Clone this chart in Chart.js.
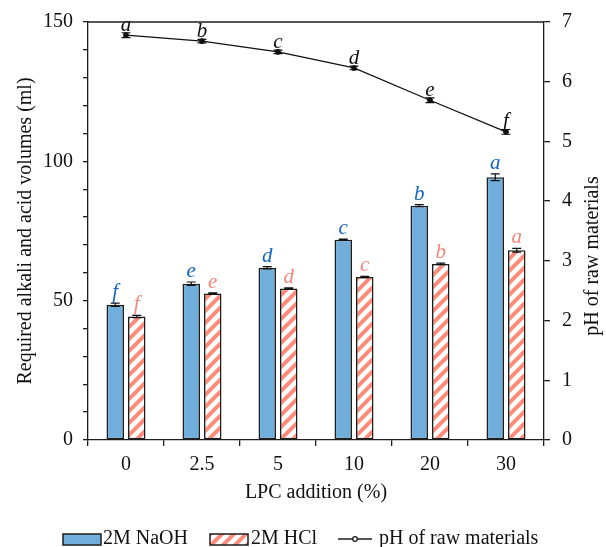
<!DOCTYPE html>
<html><head><meta charset="utf-8">
<script src="https://cdn.jsdelivr.net/npm/chart.js@4/dist/chart.umd.min.js"></script>
<style>html,body{margin:0;padding:0;background:#fff}</style>
</head><body>
<canvas id="c" width="606" height="547"></canvas>
<script>
const categories = ['0', '2.5', '5', '10', '20', '30'];
const naoh = [48.5, 56.1, 61.8, 71.9, 84.1, 94.3];
const naohErr = [0.6, 0.6, 0.4, 0.2, 0.4, 1.2];
const hcl = [44.3, 52.6, 54.4, 58.5, 63.2, 68.1];
const hclErr = [0.4, 0.2, 0.2, 0.2, 0.3, 0.7];
const ph = [6.78, 6.68, 6.50, 6.23, 5.69, 5.16];
const phErr = [0.04, 0.03, 0.03, 0.03, 0.04, 0.04];
const naohLetters = ['f', 'e', 'd', 'c', 'b', 'a'];
const hclLetters = ['f', 'e', 'd', 'c', 'b', 'a'];
const phLetters = ['a', 'b', 'c', 'd', 'e', 'f'];
const seriesNames = ['2M NaOH', '2M HCl', 'pH of raw materials'];
const leftTitle = 'Required alkali and acid volumes (ml)';
const rightTitle = 'pH of raw materials';
const xTitle = 'LPC addition (%)';

const FONT = "'Liberation Serif', 'Times New Roman', serif";
const FS = 20;
const BLUE = '#72aedc';
const BLUE_TXT = '#1565c0';
const SALMON = '#ff8a7a';
const SALMON_TXT = '#f4877a';
const EDGE = '#1e1e1e';

function makeHatch() {
  const s = 12;
  const c = document.createElement('canvas');
  c.width = s; c.height = s;
  const g = c.getContext('2d');
  g.fillStyle = '#fff'; g.fillRect(0, 0, s, s);
  g.strokeStyle = SALMON; g.lineWidth = 4;
  g.beginPath();
  g.moveTo(-1, s + 1); g.lineTo(s + 1, -1);
  g.moveTo(-s / 2 - 1, s / 2 + 1); g.lineTo(s / 2 + 1, -s / 2 - 1);
  g.moveTo(s / 2 - 1, s * 1.5 + 1); g.lineTo(s * 1.5 + 1, s / 2 - 1);
  g.stroke();
  return document.getElementById('c').getContext('2d').createPattern(c, 'repeat');
}
const hatch = makeHatch();

const deco = {
  id: 'deco',
  afterDatasetsDraw(chart) {
    const ctx = chart.ctx;
    const { top, left, right } = chart.chartArea;
    const yL = chart.scales.y, yR = chart.scales.y1;
    ctx.save();
    ctx.strokeStyle = EDGE; ctx.lineWidth = 1.3;
    ctx.beginPath(); ctx.moveTo(left, top); ctx.lineTo(right, top); ctx.stroke();

    function errBar(x, v, e, sc, cap) {
      const y1 = sc.getPixelForValue(v + e), y2 = sc.getPixelForValue(v - e);
      ctx.strokeStyle = '#111'; ctx.lineWidth = 1.2;
      ctx.beginPath();
      ctx.moveTo(x, y1); ctx.lineTo(x, y2);
      ctx.moveTo(x - cap, y1); ctx.lineTo(x + cap, y1);
      ctx.moveTo(x - cap, y2); ctx.lineTo(x + cap, y2);
      ctx.stroke();
      return y1;
    }
    ctx.font = 'italic 21px ' + FONT;
    ctx.textAlign = 'center'; ctx.textBaseline = 'alphabetic';
    const sets = [[0, naoh, naohErr, naohLetters, BLUE_TXT], [1, hcl, hclErr, hclLetters, SALMON_TXT]];
    sets.forEach(([di, vals, errs, letters, col]) => {
      chart.getDatasetMeta(di).data.forEach((bar, i) => {
        const yt = errBar(bar.x, vals[i], errs[i], yL, 4.5);
        ctx.fillStyle = col;
        ctx.fillText(letters[i], bar.x, Math.min(yt, bar.y) - 5);
      });
    });
    chart.getDatasetMeta(2).data.forEach((pt, i) => {
      const yt = errBar(pt.x, ph[i], phErr[i], yR, 4.5);
      ctx.fillStyle = '#111';
      ctx.fillText(phLetters[i], pt.x, yt - 2);
    });
    ctx.restore();
  },
  afterDraw(chart) {
    const ctx = chart.ctx;
    ctx.save();
    ctx.font = FS + 'px ' + FONT; ctx.fillStyle = '#111';
    ctx.textAlign = 'center'; ctx.textBaseline = 'middle';
    ctx.translate(593, 256); ctx.rotate(-Math.PI / 2);
    ctx.fillText(rightTitle, 0, 0);
    ctx.restore();

    ctx.save();
    const ly = 539;
    ctx.font = FS + 'px ' + FONT;
    ctx.textAlign = 'left'; ctx.textBaseline = 'middle';
    ctx.lineWidth = 1.5; ctx.strokeStyle = EDGE;
    ctx.fillStyle = BLUE; ctx.fillRect(63, ly - 5, 38, 11); ctx.strokeRect(63, ly - 5, 38, 11);
    ctx.fillStyle = '#111'; ctx.fillText(seriesNames[0], 103, ly);
    ctx.fillStyle = hatch; ctx.fillRect(210, ly - 5, 38, 11); ctx.strokeRect(210, ly - 5, 38, 11);
    ctx.fillStyle = '#111'; ctx.fillText(seriesNames[1], 251, ly);
    ctx.beginPath(); ctx.moveTo(338, ly); ctx.lineTo(372, ly); ctx.lineWidth = 1.3; ctx.stroke();
    ctx.beginPath(); ctx.arc(355, ly, 2.3, 0, Math.PI * 2); ctx.fillStyle = '#fff'; ctx.fill(); ctx.stroke();
    ctx.fillStyle = '#111'; ctx.fillText(seriesNames[2], 379, ly);
    ctx.restore();
  }
};

Chart.defaults.font.family = FONT;
Chart.defaults.font.size = FS;
Chart.defaults.color = '#111';

new Chart(document.getElementById('c'), {
  type: 'bar',
  data: {
    labels: categories,
    datasets: [
      { label: seriesNames[0], data: naoh, backgroundColor: BLUE, borderColor: EDGE, borderWidth: 1.6, borderSkipped: false, yAxisID: 'y', order: 2 },
      { label: seriesNames[1], data: hcl, backgroundColor: hatch, borderColor: EDGE, borderWidth: 1.6, borderSkipped: false, yAxisID: 'y', order: 2 },
      { label: seriesNames[2], type: 'line', data: ph, yAxisID: 'y1', borderColor: '#111', borderWidth: 1.3, pointRadius: 2.2, pointBackgroundColor: '#111', pointBorderColor: '#111', tension: 0, order: 0 }
    ]
  },
  options: {
    responsive: false,
    animation: false,
    devicePixelRatio: 1,
    categoryPercentage: 0.566,
    barPercentage: 0.814,
    layout: { padding: { top: 22, left: 0, right: 0, bottom: 0 } },
    plugins: { legend: { display: false }, tooltip: { enabled: false } },
    scales: {
      x: {
        offset: true,
        grid: { offset: true, drawOnChartArea: false, drawTicks: true, tickLength: 6, color: EDGE, lineWidth: 1.3 },
        border: { color: EDGE, width: 1.3 },
        ticks: { padding: 7, color: '#111' },
        title: { display: true, text: xTitle, color: '#111', padding: { top: 0, bottom: 42 } },
        afterFit(s) { s.height = 107; s.paddingLeft = 0; s.paddingRight = 0; }
      },
      y: {
        position: 'left', min: 0, max: 150,
        ticks: { stepSize: 10, autoSkip: false, padding: 10, color: '#111', callback: v => (v % 50 === 0 ? v : '') },
        grid: { drawOnChartArea: false, tickLength: 5, color: EDGE, lineWidth: 1.3 },
        border: { color: EDGE, width: 1.3 },
        title: { display: true, text: leftTitle, color: '#111', padding: { top: 14, bottom: 4 } },
        afterFit(s) { s.width = 88; s.paddingTop = 0; s.paddingBottom = 0; }
      },
      y1: {
        position: 'right', min: 0, max: 7,
        ticks: { stepSize: 1, autoSkip: false, padding: 12, color: '#111' },
        grid: { drawOnChartArea: false, tickLength: 6, color: EDGE, lineWidth: 1.3 },
        border: { color: EDGE, width: 1.3 },
        afterFit(s) { s.width = 62; s.paddingTop = 0; s.paddingBottom = 0; }
      }
    }
  },
  plugins: [deco]
});
</script>
</body></html>
